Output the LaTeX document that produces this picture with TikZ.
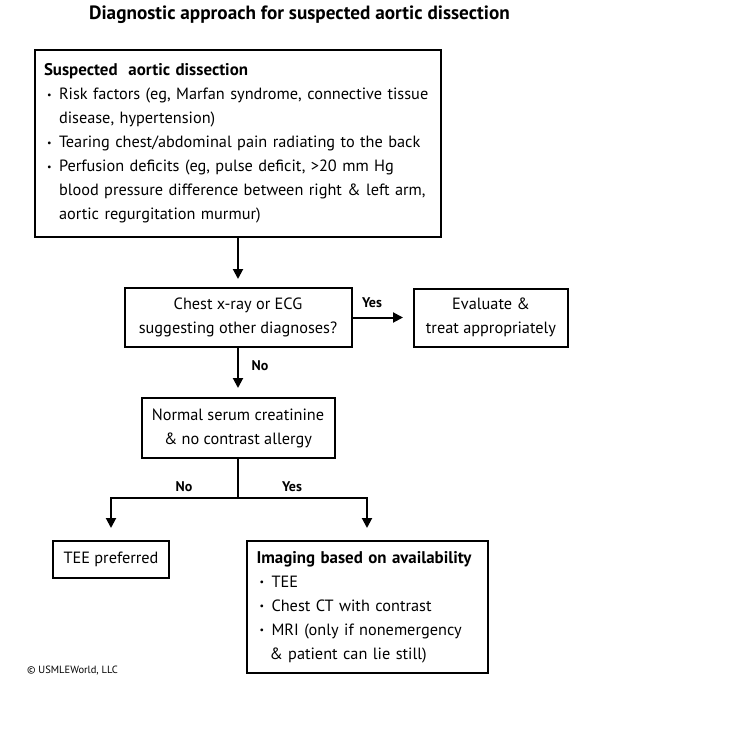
\documentclass[tikz,border=0pt]{standalone}
\usepackage{fontspec}
\setmainfont{PT Sans}
\usetikzlibrary{arrows.meta}
\newcommand\bulA{\makebox[15pt][l]{\hspace{3pt}\raisebox{0.2ex}{\fontsize{10}{10}\selectfont\textbullet}}}
\begin{document}
\begin{tikzpicture}[x=1pt,y=-1pt,
  box/.style={draw, line width=2pt, inner sep=0pt, font=\fontsize{16.3}{24}\selectfont, align=center},
  arr/.style={line width=2pt, -{Triangle[width=10pt,length=10pt]}},
  lbl/.style={font=\fontsize{14}{16}\selectfont\bfseries, inner sep=0pt}]
\useasboundingbox (0,0) rectangle (733,740);
\node[font=\fontsize{19.2}{22}\selectfont\bfseries, inner sep=0pt] (title) at (299.5,15) {Diagnostic approach for suspected aortic dissection};
\node[box, minimum width=406, minimum height=187, text width=388, align=left] (b1) at (238,143.5) {%
{\fontsize{16.9}{24}\selectfont\bfseries Suspected\ \ aortic dissection}\\
\bulA Risk factors (eg, Marfan syndrome, connective tissue\\
\hspace*{15pt}disease, hypertension)\\
\bulA Tearing chest/abdominal pain radiating to the back\\
\bulA Perfusion deficits (eg, pulse deficit, >20 mm Hg\\
\hspace*{15pt}blood pressure difference between right \& left arm,\\
\hspace*{15pt}aortic regurgitation murmur)};
\node[box, minimum width=227, minimum height=59] (b2) at (238,317.5) {Chest x-ray or ECG\\suggesting other diagnoses?};
\node[box, minimum width=154, minimum height=58] (b3) at (491,317.5) {Evaluate \&\\treat appropriately};
\node[box, minimum width=193, minimum height=60] (b4) at (238,428) {Normal serum creatinine\\\& no contrast allergy};
\node[box, minimum width=116, minimum height=37] (b5) at (111,559.5) {TEE preferred};
\node[box, minimum width=241, minimum height=132, text width=221, align=left] (b6) at (367,607) {%
{\fontsize{16.9}{24}\selectfont\bfseries Imaging based on availability}\\
\bulA TEE\\
\bulA Chest CT with contrast\\
\bulA MRI (only if nonemergency\\
\hspace*{13pt}\& patient can lie still)};
\node[font=\fontsize{10.5}{12}\selectfont, anchor=west, inner sep=0pt] (copy) at (27,671) {\textcopyright\ USMLEWorld, LLC};
\draw[arr, shorten >=8pt] (b1.south) -- (b2.north);
\draw[arr, shorten >=10pt] (b2.east) -- (b3.west);
\draw[arr, shorten >=9pt] (b2.south) -- (b4.north);
\coordinate (j) at (238,498);
\draw[line width=2pt] (b4.south) -- (j);
\draw[arr, shorten >=12pt] (j) -| (b5.north);
\draw[arr, shorten >=12pt] (j) -| (b6.north);
\node[lbl] (yes1) at (372,303) {Yes};
\node[lbl] (no1) at (260,366) {No};
\node[lbl] (no2) at (184,487) {No};
\node[lbl] (yes2) at (292,487) {Yes};
\end{tikzpicture}
\end{document}
